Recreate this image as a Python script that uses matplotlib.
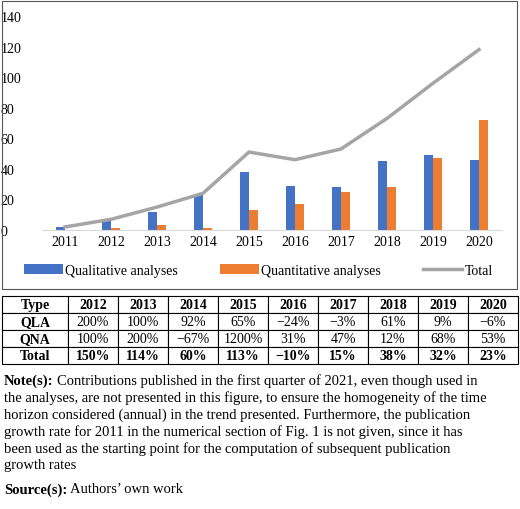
import matplotlib
matplotlib.use("Agg")
import matplotlib.pyplot as plt
from matplotlib.patches import Rectangle

plt.rcParams['font.family'] = ['Liberation Serif', 'DejaVu Serif']

years = ['2011','2012','2013','2014','2015','2016','2017','2018','2019','2020']
qla = [2, 6, 12, 23, 38, 29, 28, 45, 49, 46]
qna = [0, 1, 3, 1, 13, 17, 25, 28, 47, 72]
total = [2, 7, 15, 24, 51, 46, 53, 73, 96, 118]

tab_header = ['Type','2012','2013','2014','2015','2016','2017','2018','2019','2020']
tab_rows = [
    ['QLA','200%','100%','92%','65%','−24%','−3%','61%','9%','−6%'],
    ['QNA','100%','200%','−67%','1200%','31%','47%','12%','68%','53%'],
    ['Total','150%','114%','60%','113%','−10%','15%','38%','32%','23%'],
]

W, H = 520, 510
fig = plt.figure(figsize=(5.2, 5.1), dpi=100)

fig.add_artist(Rectangle((2/W, 1-290/H), 515/W, 288/H, transform=fig.transFigure,
                         fill=False, edgecolor='#555555', lw=0.8))

ax = fig.add_axes([42/W, 1-231/H, 460/W, 214/H])
x = list(range(len(years)))
bw = 0.2
b1 = ax.bar([i - bw/2 for i in x], qla, bw, color='#4472C4', label='Qualitative analyses')
b2 = ax.bar([i + bw/2 for i in x], qna, bw, color='#ED7D31', label='Quantitative analyses')
l1, = ax.plot(x, total, color='#A5A5A5', lw=2.5, label='Total')
ax.set_ylim(0, 140)
ax.set_xlim(-0.5, 9.5)
ax.set_yticks(range(0, 141, 20))
ax.set_xticks(x)
ax.set_xticklabels(years)
for s in ['top', 'right', 'left']:
    ax.spines[s].set_visible(False)
ax.spines['bottom'].set_color('#D9D9D9')
ax.tick_params(length=0, labelsize=10)
ax.tick_params(axis='y', pad=12)
for t in ax.get_yticklabels():
    t.set_horizontalalignment('left')
ax.tick_params(axis='y', pad=30)
ax.legend([b1, b2, l1], ['Qualitative analyses', 'Quantitative analyses', 'Total'],
          loc='upper center', bbox_to_anchor=(0.47, -0.1), ncol=3, frameon=False,
          fontsize=10, handlelength=2.8, columnspacing=3, handletextpad=0.2)

tax = fig.add_axes([2/W, 1-365/H, 516/W, 68/H])
tax.axis('off')
cells = [tab_header] + tab_rows
tbl = tax.table(cellText=cells, bbox=[0, 0, 1, 1], cellLoc='center')
tbl.auto_set_font_size(False)
colw = [66/516] + [50/516]*9
for (r, c), cell in tbl.get_celld().items():
    cell.set_width(colw[c])
    cell.set_linewidth(0.8)
    cell.set_text_props(fontsize=10)
    if r == 0 or c == 0 or r == 3:
        cell.set_text_props(fontweight='bold', fontsize=10)
    if c == 0:
        cell._loc = 'left'
        cell.PAD = 0.05

fig.text(4/W, 1-381/H, 'Note(s):', fontsize=10.5, fontweight='bold', va='center')
fig.text(57/W, 1-381/H, 'Contributions published in the first quarter of 2021, even though used in',
         fontsize=10.5, va='center')
lines = ['the analyses, are not presented in this figure, to ensure the homogeneity of the time',
         'horizon considered (annual) in the trend presented. Furthermore, the publication',
         'growth rate for 2011 in the numerical section of Fig. 1 is not given, since it has',
         'been used as the starting point for the computation of subsequent publication',
         'growth rates']
for i, l in enumerate(lines):
    fig.text(4/W, 1-(398+17*i)/H, l, fontsize=10.5, va='center')
fig.text(4/W, 1-490/H, 'Source(s):', fontsize=10.5, fontweight='bold', va='center')
fig.text(70/W, 1-490/H, 'Authors’ own work', fontsize=10.5, va='center')

fig.savefig('out.png', dpi=100)
